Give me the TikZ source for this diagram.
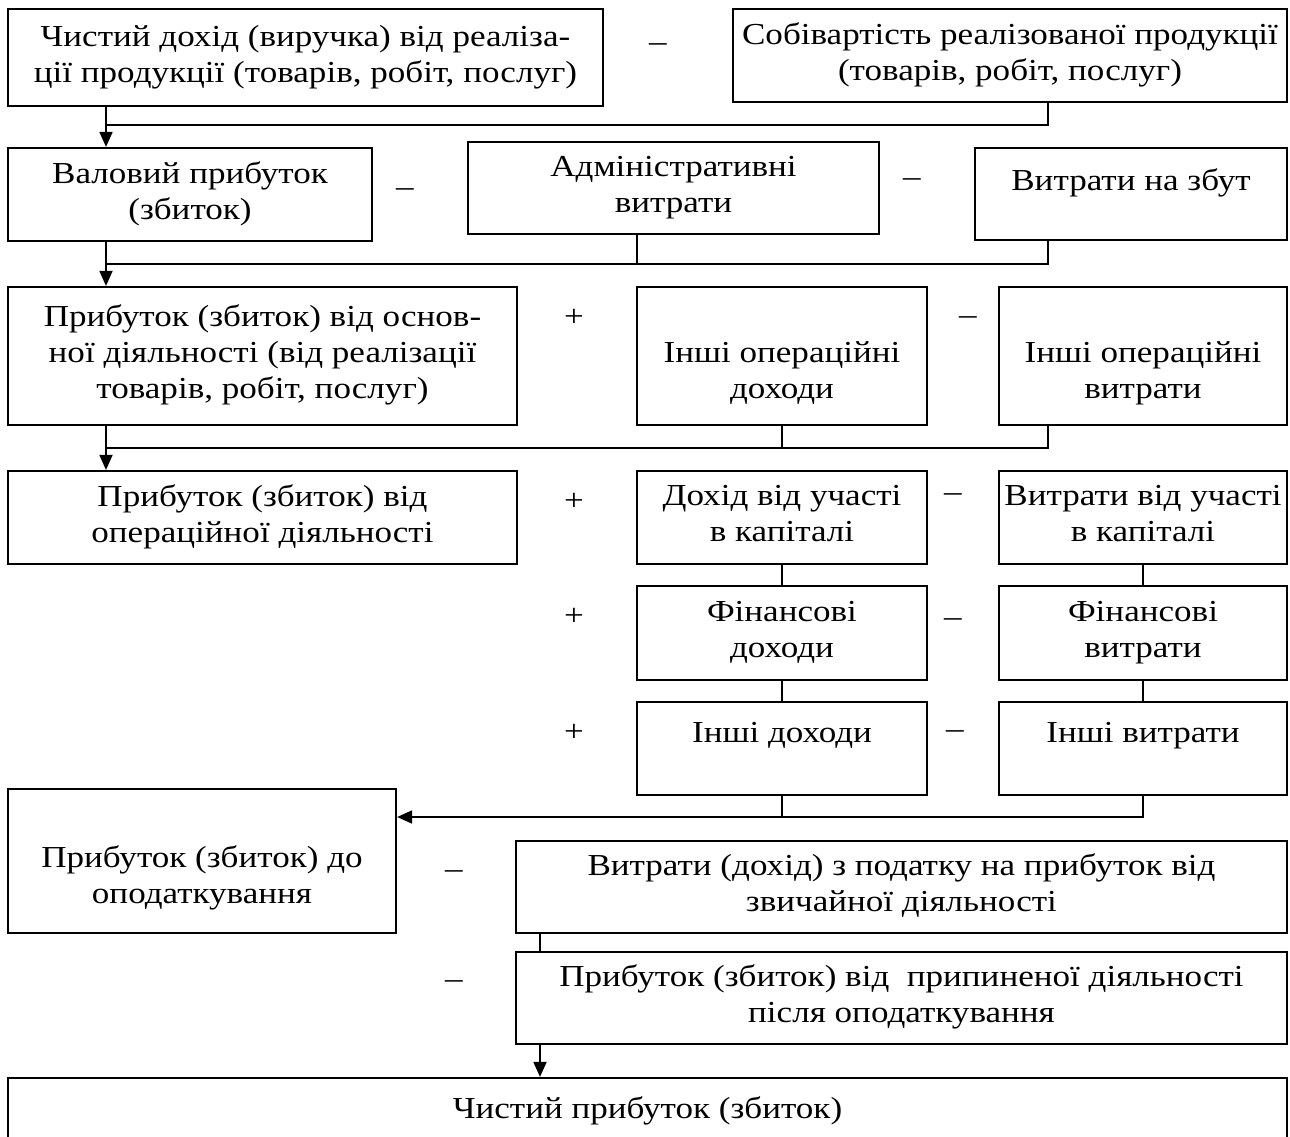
\documentclass[tikz,border=0pt]{standalone}
\usepackage{fontspec}
\setmainfont[FakeStretch=1.15]{Liberation Serif}
\usetikzlibrary{arrows.meta}
\begin{document}
\begin{tikzpicture}[x=1pt,y=-1pt,
  box/.style={draw, line width=2.2pt, align=center, inner sep=0pt, font=\fontsize{30.5}{36}\selectfont,
    execute at begin node={\rule{0pt}{28pt}}, execute at end node={\rule[-8pt]{0pt}{8pt}}},
  sign/.style={inner sep=0pt, font=\fontsize{30.5}{36}\selectfont},
  conn/.style={line width=1.8pt},
  arr/.style={line width=1.8pt, -{Triangle[length=15pt,width=13pt]}}]
\useasboundingbox (0,0) rectangle (1290,1137);
\clip (0,0) rectangle (1290,1137);
% boxes
\node[box, minimum width=595pt, minimum height=97pt] (b1) at (305.5,57.5) {Чистий дохід (виручка) від реаліза-\\ції продукції (товарів, робіт, послуг)};
\node[box, minimum width=554pt, minimum height=93pt] (b2) at (1010,55.5) {Собівартість реалізованої продукції\\(товарів, робіт, послуг)};
\node[box, minimum width=364pt, minimum height=93pt] (b3) at (190,194.5) {Валовий прибуток\\(збиток)};
\node[box, minimum width=411pt, minimum height=92pt] (b4) at (673.5,188) {Адміністративні\\витрати};
\node[box, minimum width=312pt, minimum height=92pt] (b5) at (1131,194) {\rule{0pt}{36pt}Витрати на збут\\~};
\node[box, minimum width=509pt, minimum height=138pt] (b6) at (262.5,356) {Прибуток (збиток) від основ-\\ної діяльності (від реалізації\\товарів, робіт, послуг)};
\node[box, minimum width=290pt, minimum height=138pt] (b7) at (782,356) {\rule{0pt}{56pt}Інші операційні\\доходи};
\node[box, minimum width=288pt, minimum height=138pt] (b8) at (1143,356) {\rule{0pt}{56pt}Інші операційні\\витрати};
\node[box, minimum width=509pt, minimum height=93pt] (b9) at (262.5,517.5) {Прибуток (збиток) від\\операційної діяльності};
\node[box, minimum width=290pt, minimum height=93pt] (b10) at (782,517.5) {Дохід від участі\\в капіталі};
\node[box, minimum width=288pt, minimum height=93pt] (b11) at (1143,517.5) {Витрати від участі\\в капіталі};
\node[box, minimum width=290pt, minimum height=94pt] (b12) at (782,633) {Фінансові\\доходи};
\node[box, minimum width=288pt, minimum height=94pt] (b13) at (1143,633) {Фінансові\\витрати};
\node[box, minimum width=290pt, minimum height=93pt] (b14) at (782,748.5) {\rule{0pt}{32pt}Інші доходи\\~};
\node[box, minimum width=288pt, minimum height=93pt] (b15) at (1143,748.5) {\rule{0pt}{32pt}Інші витрати\\~};
\node[box, minimum width=388pt, minimum height=144pt] (b16) at (202,861) {\rule{0pt}{56pt}Прибуток (збиток) до\\оподаткування};
\node[box, minimum width=771pt, minimum height=92pt] (b17) at (901.5,887) {Витрати (дохід) з податку на прибуток від\\звичайної діяльності};
\node[box, minimum width=771pt, minimum height=92pt] (b18) at (901.5,998) {Прибуток (збиток) від\ \ припиненої діяльності\\після оподаткування};
\node[box, minimum width=1279pt, minimum height=66pt] (b19) at (647.5,1111) {Чистий прибуток (збиток)\rule[-14pt]{0pt}{14pt}};
% signs
\node[sign] (s1) at (658,48) {–};
\node[sign] (s2) at (405,193) {–};
\node[sign] (s3) at (912,183) {–};
\node[sign] (s4) at (574,318) {+};
\node[sign] (s5) at (968,321) {–};
\node[sign] (s6) at (574,502) {+};
\node[sign] (s7) at (953,498) {–};
\node[sign] (s8) at (574,617) {+};
\node[sign] (s9) at (953,623) {–};
\node[sign] (s10) at (574,733) {+};
\node[sign] (s11) at (955,735) {–};
\node[sign] (s12) at (454,875) {–};
\node[sign] (s13) at (454,985) {–};
% junction coordinates
\coordinate (x1) at (106,0);
\coordinate (j1) at (1048,125);
\coordinate (j2) at (1048,264);
\coordinate (k2) at (637,264);
\coordinate (j3) at (1048,448);
\coordinate (j4) at (1143,817);
\coordinate (x5) at (540,0);
% connectors
\draw[arr] (b1.south -| x1) -- (b3.north -| x1);
\draw[conn] (b2.south -| j1) -- (j1) -- (j1 -| x1);
\draw[arr] (b3.south -| x1) -- (b6.north -| x1);
\draw[conn] (b5.south -| j2) -- (j2) -- (j2 -| x1);
\draw[conn] (b4.south -| k2) -- (k2);
\draw[arr] (b6.south -| x1) -- (b9.north -| x1);
\draw[conn] (b8.south -| j3) -- (j3) -- (j3 -| x1);
\draw[conn] (b7.south) -- (b7.south |- j3);
\draw[conn] (b10.south) -- (b12.north);
\draw[conn] (b12.south) -- (b14.north);
\draw[conn] (b11.south) -- (b13.north);
\draw[conn] (b13.south) -- (b15.north);
\draw[conn] (b14.south) -- (b14.south |- j4);
\draw[arr] (b15.south) -- (j4) -- (j4 -| b16.east);
\draw[conn] (b17.south -| x5) -- (b18.north -| x5);
\draw[arr] (b18.south -| x5) -- (b19.north -| x5);
\end{tikzpicture}
\end{document}
